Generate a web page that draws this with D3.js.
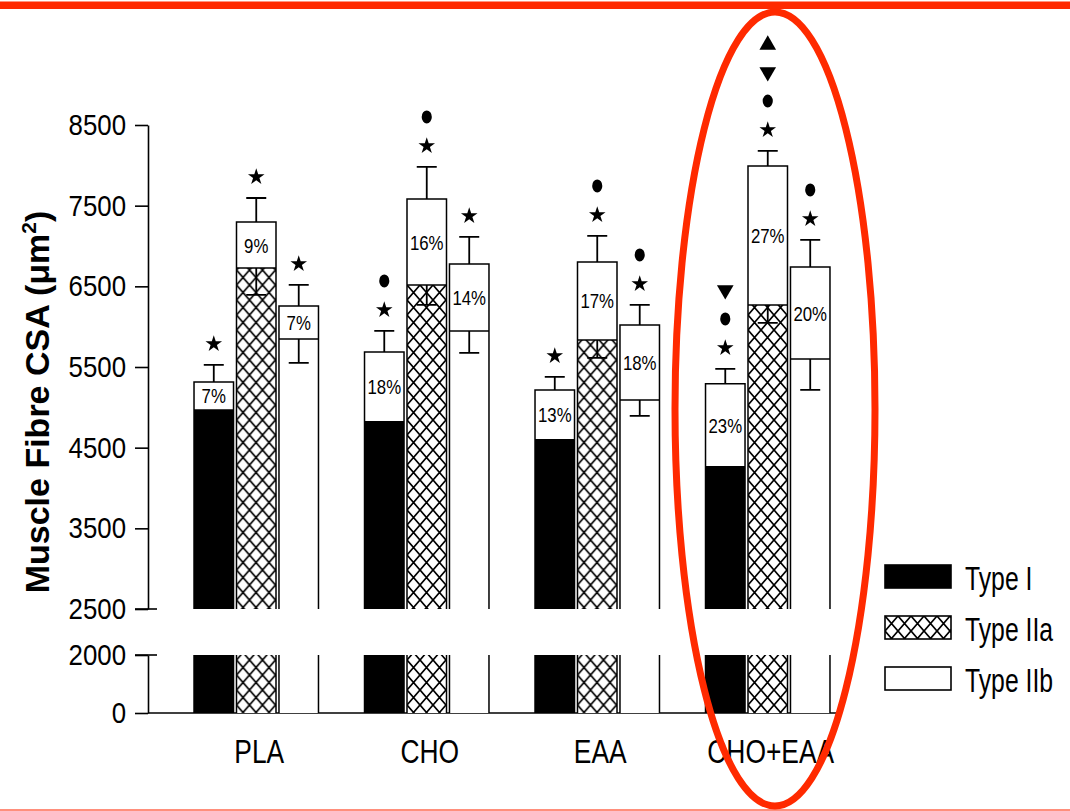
<!DOCTYPE html>
<meta charset="utf-8">
<body style="margin:0;background:#fff">
<script src="https://d3js.org/d3.v7.min.js"></script>
<script>

// groups and fibre types
var groups = ["PLA", "CHO", "EAA", "CHO+EAA"];
var series = ["Type I", "Type IIa", "Type IIb"];

// pre (filled part) and post (top of bar) CSA, um^2
var typeIPre   = [4968, 4820, 4597, 4262];
var typeIPost  = [5315, 5687, 5216, 5291];
var typeIIaPre  = [6728, 6517, 5836, 6270];
var typeIIaPost = [7298, 7583, 6802, 7992];
var typeIIbPre  = [5848, 5947, 5092, 5600];
var typeIIbPost = [6257, 6778, 6022, 6740];

// error bars (SEM) on post (upwards) and pre (downwards)
var typeIPostSem   = [211, 260, 161, 185];
var typeIIaPostSem = [297, 397, 323, 186];
var typeIIaPreSem  = [335, 247, 223, 224];
var typeIIbPostSem = [260, 334, 248, 335];
var typeIIbPreSem  = [297, 272, 198, 384];

// % increase labels
var typeIPct   = ["7%", "18%", "13%", "23%"];
var typeIIaPct = ["9%", "16%", "17%", "27%"];
var typeIIbPct = ["7%", "14%", "18%", "20%"];

// significance symbols above bars: s=star, d=dot, v=down triangle, u=up triangle
var typeIMarks   = ["s", "sd", "s", "sdv"];
var typeIIaMarks = ["s", "sd", "sd", "sdvu"];
var typeIIbMarks = ["s", "s", "sd", "sd"];

var upperTicks = [2500, 3500, 4500, 5500, 6500, 7500, 8500];
var lowerTicks = [0, 2000];

var width = 1070, height = 811;
var font = "'Liberation Sans', Arial, sans-serif";

// squeeze text horizontally (the scan uses a condensed face)
function condense(sel, f) {
  sel.each(function() {
    var w = this.getComputedTextLength();
    d3.select(this).attr("textLength", w * f).attr("lengthAdjust", "spacingAndGlyphs");
  });
}

var pre = [typeIPre, typeIIaPre, typeIIbPre];
var post = [typeIPost, typeIIaPost, typeIIbPost];
var postSem = [typeIPostSem, typeIIaPostSem, typeIIbPostSem];
var preSem = [null, typeIIaPreSem, typeIIbPreSem];
var pct = [typeIPct, typeIIaPct, typeIIbPct];
var marks = [typeIMarks, typeIIaMarks, typeIIbMarks];

var rows = [];
groups.forEach(function(g, i) {
  series.forEach(function(s, j) {
    rows.push({
      group: g, series: s, k: j,
      pre: pre[j][i], post: post[j][i],
      postSem: postSem[j][i], preSem: preSem[j] ? preSem[j][i] : 0,
      pct: pct[j][i], marks: marks[j][i]
    });
  });
});

var svg = d3.select("body").append("svg")
    .attr("width", width)
    .attr("height", height)
    .style("display", "block");

var defs = svg.append("defs");
var pat = defs.append("pattern")
    .attr("id", "hatch")
    .attr("patternUnits", "userSpaceOnUse")
    .attr("width", 13)
    .attr("height", 15);
pat.append("rect").attr("width", 13).attr("height", 15).attr("fill", "#fff");
pat.append("path")
    .attr("d", "M-1,-1.15L14,16.15M14,-1.15L-1,16.15")
    .attr("stroke", "#000")
    .attr("stroke-width", 1.7);

var fills = {"Type I": "#000", "Type IIa": "url(#hatch)", "Type IIb": "#fff"};

var x0 = d3.scaleBand().domain(groups).range([171, 853]).paddingInner(0.27).paddingOuter(0.135);
var x1 = d3.scaleBand().domain(series).range([0, x0.bandwidth()]).paddingInner(0.07);

var yTop = d3.scaleLinear().domain([2500, 8500]).range([609, 125]);
var yLow = d3.scaleLinear().domain([0, 2000]).range([713, 655]);

// axes
var axTop = svg.append("g")
    .attr("transform", "translate(148,0)")
    .call(d3.axisLeft(yTop).tickValues(upperTicks).tickFormat(d3.format("d"))
      .tickSize(13).tickSizeOuter(0).tickPadding(9));
var axLow = svg.append("g")
    .attr("transform", "translate(148,0)")
    .call(d3.axisLeft(yLow).tickValues(lowerTicks).tickFormat(d3.format("d"))
      .tickSize(13).tickSizeOuter(0).tickPadding(9));
[axTop, axLow].forEach(function(a) {
  a.selectAll("path, line").attr("stroke", "#000").attr("stroke-width", 1.6);
  a.selectAll("text")
      .attr("font-family", font)
      .attr("font-size", 30)
      .attr("fill", "#000")
      .call(condense, 0.86);
});

// break marks
[yTop(2500), yLow(2000)].forEach(function(yy) {
  svg.append("line")
      .attr("x1", 135).attr("x2", 157)
      .attr("y1", yy).attr("y2", yy)
      .attr("stroke", "#000").attr("stroke-width", 1.6);
});

// x axis line
svg.append("line")
    .attr("x1", 148).attr("x2", 842)
    .attr("y1", yLow(0)).attr("y2", yLow(0))
    .attr("stroke", "#000").attr("stroke-width", 1.6);

var bars = svg.append("g").selectAll("g")
  .data(rows)
  .enter().append("g")
    .attr("transform", function(d) { return "translate(" + (x0(d.group) + x1(d.series)) + ",0)"; });

var bw = x1.bandwidth();

// lower segment
bars.append("rect")
    .attr("y", yLow(2000))
    .attr("width", bw)
    .attr("height", yLow(0) - yLow(2000))
    .attr("fill", function(d) { return fills[d.series]; });
bars.append("path")
    .attr("d", "M0," + yLow(2000) + "V" + yLow(0) + "M" + bw + "," + yLow(2000) + "V" + yLow(0))
    .attr("stroke", "#000").attr("stroke-width", 1.5);

// upper segment: pre part
bars.append("rect")
    .attr("y", function(d) { return yTop(d.pre); })
    .attr("width", bw)
    .attr("height", function(d) { return yTop(2500) - yTop(d.pre); })
    .attr("fill", function(d) { return fills[d.series]; });
// increment part
bars.append("rect")
    .attr("y", function(d) { return yTop(d.post); })
    .attr("width", bw)
    .attr("height", function(d) { return yTop(d.pre) - yTop(d.post); })
    .attr("fill", "#fff");
// outline + pre line
bars.append("path")
    .attr("d", function(d) {
      return "M0," + yTop(2500) + "V" + yTop(d.post) + "H" + bw + "V" + yTop(2500) +
             "M0," + yTop(d.pre) + "H" + bw;
    })
    .attr("fill", "none")
    .attr("stroke", "#000").attr("stroke-width", 1.5);

// error bars
bars.append("path")
    .attr("d", function(d) {
      var c = bw / 2, t = yTop(d.post + d.postSem);
      var s = "M" + c + "," + yTop(d.post) + "V" + t + "M" + (c - 10) + "," + t + "H" + (c + 10);
      if (d.preSem) {
        var b = yTop(d.pre - d.preSem);
        s += "M" + c + "," + yTop(d.pre) + "V" + b + "M" + (c - 10) + "," + b + "H" + (c + 10);
      }
      return s;
    })
    .attr("fill", "none")
    .attr("stroke", "#000").attr("stroke-width", 1.8);

// percent labels
bars.append("text")
    .attr("x", bw / 2)
    .attr("y", function(d) { return (yTop(d.post) + yTop(d.pre)) / 2; })
    .attr("dy", "0.36em")
    .attr("text-anchor", "middle")
    .attr("font-family", font)
    .attr("font-size", 21)
    .text(function(d) { return d.pct; })
    .call(condense, 0.8);

// significance symbols
var symStar = d3.symbol().type(d3.symbolStar).size(85);
var symDot = d3.symbol().type(d3.symbolCircle).size(100);
var symTri = d3.symbol().type(d3.symbolTriangle).size(120);
bars.each(function(d) {
  var g = d3.select(this);
  var base = yTop(d.post + d.postSem) - 21;
  d.marks.split("").forEach(function(m, i) {
    var yy = base - i * 29;
    var p = g.append("path").attr("fill", "#000");
    if (m === "s") p.attr("d", symStar()).attr("transform", "translate(" + bw / 2 + "," + yy + ")");
    if (m === "d") p.attr("d", symDot()).attr("transform", "translate(" + bw / 2 + "," + yy + ") scale(0.9,1.15)");
    if (m === "v") p.attr("d", symTri()).attr("transform", "translate(" + bw / 2 + "," + yy + ") rotate(180)");
    if (m === "u") p.attr("d", symTri()).attr("transform", "translate(" + bw / 2 + "," + (yy + 2) + ")");
  });
});

// group labels
svg.append("g").selectAll("text")
  .data(groups)
  .enter().append("text")
    .attr("x", function(d) { return x0(d) + x0.bandwidth() / 2 + 3; })
    .attr("y", 763)
    .attr("text-anchor", "middle")
    .attr("font-family", font)
    .attr("font-size", 33)
    .text(function(d) { return d; })
    .call(condense, 0.8);

// y title
var yt = svg.append("text")
    .attr("transform", "translate(49,402) rotate(-90)")
    .attr("text-anchor", "middle")
    .attr("font-family", font)
    .attr("font-size", 34)
    .attr("font-weight", "bold");
yt.append("tspan").text("Muscle Fibre CSA (\u03bcm");
yt.append("tspan").attr("font-size", 21).attr("dy", -13).text("2");
yt.append("tspan").attr("dy", 13).text(")");

// legend
var leg = svg.append("g").selectAll("g")
  .data(series)
  .enter().append("g")
    .attr("transform", function(d, i) { return "translate(885," + (565 + i * 51) + ")"; });
leg.append("rect")
    .attr("width", 66).attr("height", 23)
    .attr("fill", function(d) { return fills[d]; })
    .attr("stroke", "#000").attr("stroke-width", 1.6);
leg.append("text")
    .attr("transform", "translate(80,25) scale(0.75,1)")
    .attr("font-family", font)
    .attr("font-size", 33)
    .text(function(d) { return d; });

// red highlight overlay
svg.append("rect")
    .attr("x", 0).attr("y", 1.5).attr("width", width).attr("height", 7.5)
    .attr("fill", "#ff2a00");
svg.append("line")
    .attr("x1", 0).attr("x2", width).attr("y1", 810).attr("y2", 810)
    .attr("stroke", "#ff6a50").attr("stroke-width", 1.5);
svg.append("ellipse")
    .attr("cx", 775).attr("cy", 409).attr("rx", 100).attr("ry", 397)
    .attr("fill", "none")
    .attr("stroke", "#ff2a00").attr("stroke-width", 7);

</script>
</body>
